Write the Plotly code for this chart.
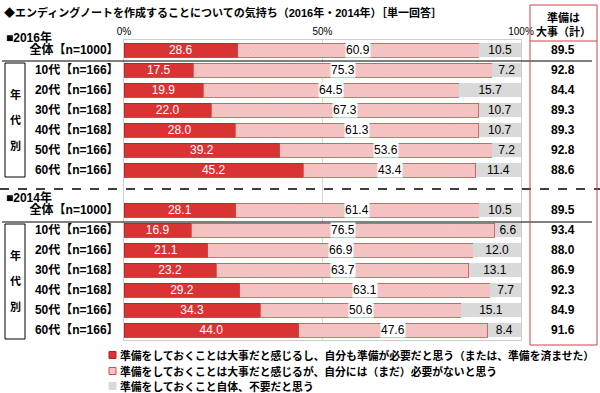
import plotly.graph_objects as go

# ---------------- data ----------------
categories = ["全体【n=1000】", "10代【n=166】", "20代【n=166】", "30代【n=168】",
              "40代【n=168】", "50代【n=166】", "60代【n=166】"]
red_2016 = [28.6, 17.5, 19.9, 22.0, 28.0, 39.2, 45.2]
pink_2016 = [60.9, 75.3, 64.5, 67.3, 61.3, 53.6, 43.4]
gray_2016 = [10.5, 7.2, 15.7, 10.7, 10.7, 7.2, 11.4]
total_2016 = [89.5, 92.8, 84.4, 89.3, 89.3, 92.8, 88.6]
red_2014 = [28.1, 16.9, 21.1, 23.2, 29.2, 34.3, 44.0]
pink_2014 = [61.4, 76.5, 66.9, 63.7, 63.1, 50.6, 47.6]
gray_2014 = [10.5, 6.6, 12.0, 13.1, 7.7, 15.1, 8.4]
total_2014 = [89.5, 93.4, 88.0, 86.9, 92.3, 84.9, 91.6]
series_names = [
    "準備をしておくことは大事だと感じるし、自分も準備が必要だと思う（または、準備を済ませた）",
    "準備をしておくことは大事だと感じるが、自分には（まだ）必要がないと思う",
    "準備をしておくこと自体、不要だと思う",
]
x_ticks = [0, 50, 100]
x_ticktext = ["0%", "50%", "100%"]
title = "◆エンディングノートを作成することについての気持ち（2016年・2014年）［単一回答］"

# ---------------- layout helpers ----------------
W, H = 600, 393
L, R, T, B = 124, 79, 40, 53
PW, PH = W - L - R, H - T - B


def px(x):
    return (x - L) / PW


def py(y):
    return (H - B - y) / PH


JP = "Liberation Sans, Noto Sans CJK JP, sans-serif"
NUM = "Liberation Sans, Arial, sans-serif"

RED = "#d83434"
RED_LINE = "#b82020"
PINK = "#f5c4c4"
PINK_HATCH = "#eaa8a8"
PINK_LINE = "#d44a4a"
GRAY = "#d9d9d9"
BOX_RED = "#d04040"

slots = list(range(7)) + list(range(8, 15))
labels = categories + categories
red = red_2016 + red_2014
pink = pink_2016 + pink_2014
gray = gray_2016 + gray_2014
total = total_2016 + total_2014

fig = go.Figure()
fig.add_bar(
    y=slots, x=red, orientation="h", width=0.7, name=series_names[0],
    marker=dict(color=RED, line=dict(color=RED_LINE, width=0.8)),
    text=[f"{v:.1f}" for v in red], textposition="inside", insidetextanchor="middle",
    textangle=0, constraintext="none", textfont=dict(color="white", size=12, family=NUM),
    showlegend=False, hoverinfo="skip",
)
fig.add_bar(
    y=slots, x=pink, orientation="h", width=0.7, name=series_names[1],
    marker=dict(color=PINK, line=dict(color=PINK_LINE, width=0.8),
                pattern=dict(shape="/", fgcolor=PINK_HATCH, bgcolor=PINK, size=3, solidity=0.2)),
    showlegend=False, hoverinfo="skip",
)
fig.add_bar(
    y=slots, x=gray, orientation="h", width=0.7, name=series_names[2],
    marker=dict(color=GRAY, line=dict(width=0)),
    text=[f"{v:.1f}" for v in gray], textposition="inside", insidetextanchor="middle",
    textangle=0, constraintext="none", textfont=dict(color="black", size=12, family=NUM),
    showlegend=False, hoverinfo="skip",
)

annotations = []
# pink segment labels on white boxes
for s, r_, p_ in zip(slots, red, pink):
    annotations.append(dict(x=r_ + p_ / 2, y=s, xref="x", yref="y", text=f"{p_:.1f}",
                            showarrow=False, bgcolor="white", borderpad=0,
                            font=dict(size=12, color="black", family=NUM)))
# right column totals
for s, t_ in zip(slots, total):
    annotations.append(dict(x=px(563), y=s, xref="paper", yref="y", text=f"{t_:.1f}",
                            showarrow=False, xanchor="center",
                            font=dict(size=12, color="black", family=NUM, weight="bold")))

# title and headers
annotations.append(dict(x=px(2), y=py(12), xref="paper", yref="paper", text=title,
                        showarrow=False, xanchor="left", yanchor="middle",
                        font=dict(size=11, color="black", family=JP, weight="bold")))
for txt, yy in [("■2016年", 37), ("■2014年", 197)]:
    annotations.append(dict(x=px(4), y=py(yy), xref="paper", yref="paper", text=txt,
                            showarrow=False, xanchor="left", yanchor="middle",
                            font=dict(size=12, color="black", family=JP, weight="bold")))
annotations.append(dict(x=px(563), y=py(24), xref="paper", yref="paper",
                        text="準備は<br>大事（計）", showarrow=False, xanchor="center",
                        yanchor="middle",
                        font=dict(size=11, color="black", family=JP, weight="bold")))
# 年代別 vertical labels
for cy in [120, 281]:
    for i, ch in enumerate(["年", "代", "別"]):
        annotations.append(dict(x=px(15), y=py(cy + (i - 1) * 26), xref="paper", yref="paper",
                                text=ch, showarrow=False, xanchor="center", yanchor="middle",
                                font=dict(size=11, color="black", family=JP, weight="bold")))
# legend texts
leg_y = [355, 371, 386]
for name, yy in zip(series_names, leg_y):
    annotations.append(dict(x=px(118), y=py(yy), xref="paper", yref="paper", text=name,
                            showarrow=False, xanchor="left", yanchor="middle",
                            font=dict(size=10.8, color="black", family=JP, weight="bold")))

shapes = []
# dashed separator
shapes.append(dict(type="line", xref="paper", yref="paper", x0=px(0), x1=px(600),
                   y0=py(189), y1=py(189), line=dict(color="black", width=1.5, dash="dash")))
# solid lines under 全体
for yy in [61, 222]:
    shapes.append(dict(type="line", xref="paper", yref="paper", x0=px(2), x1=px(592),
                       y0=py(yy), y1=py(yy), line=dict(color="black", width=1)))
# 年代別 boxes
for y0, y1 in [(63, 177), (224, 339)]:
    shapes.append(dict(type="rect", xref="paper", yref="paper", x0=px(5), x1=px(25),
                       y0=py(y0), y1=py(y1), line=dict(color="black", width=1)))
# right red box
shapes.append(dict(type="rect", xref="paper", yref="paper", x0=px(530), x1=px(597),
                   y0=py(5), y1=py(345), line=dict(color=BOX_RED, width=1)))
shapes.append(dict(type="line", xref="paper", yref="paper", x0=px(530), x1=px(597),
                   y0=py(41), y1=py(41), line=dict(color=BOX_RED, width=1)))
# legend markers
leg_fill = [RED, PINK, GRAY]
leg_line = [RED_LINE, PINK_LINE, GRAY]
for f, lc, yy in zip(leg_fill, leg_line, leg_y):
    shapes.append(dict(type="rect", xref="paper", yref="paper", x0=px(109), x1=px(116),
                       y0=py(yy - 3.5), y1=py(yy + 3.5), fillcolor=f,
                       line=dict(color=lc, width=1)))

fig.update_layout(
    width=W, height=H, margin=dict(l=L, r=R, t=T, b=B, autoexpand=False),
    barmode="stack", bargap=0.3,
    paper_bgcolor="white", plot_bgcolor="white",
    xaxis=dict(side="top", range=[0, 100], tickvals=x_ticks, ticktext=x_ticktext,
               showgrid=True, gridcolor="#d9d9d9", gridwidth=1, zeroline=False,
               showline=True, mirror=True, linecolor="#cfcfcf", linewidth=1,
               ticks="", tickfont=dict(size=10, color="black", family=NUM), fixedrange=True),
    yaxis=dict(range=[14.5, -0.5], tickvals=slots, ticktext=labels, showgrid=False,
               zeroline=False, showline=True, mirror=True, linecolor="#cfcfcf", linewidth=1,
               ticks="", ticklabelstandoff=2,
               tickfont=dict(size=12, color="black", family=JP, weight="bold"),
               fixedrange=True),
    annotations=annotations, shapes=shapes, showlegend=False,
)

fig.write_html("out.html", config={"displayModeBar": False},
               post_script="document.body.style.margin='0';document.body.style.overflow='hidden';")
